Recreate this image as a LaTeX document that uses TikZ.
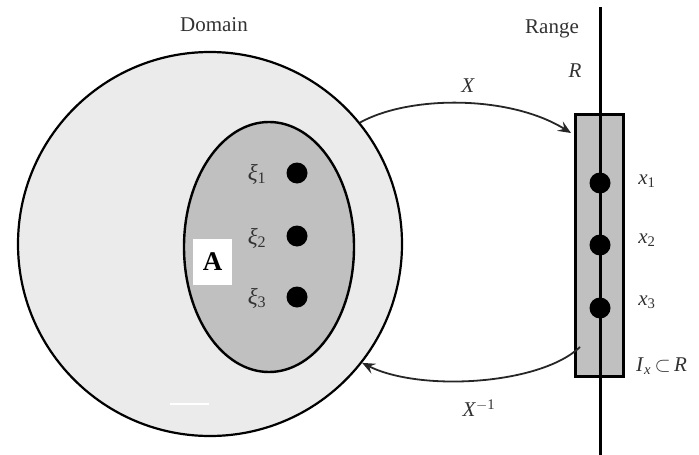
\documentclass[tikz,border=0pt]{standalone}
\usepackage{fontspec}
\setmainfont{Liberation Serif}
\usetikzlibrary{shapes.geometric,arrows.meta}
\definecolor{outerfill}{RGB}{235,235,235}
\definecolor{innerfill}{RGB}{192,192,192}
\definecolor{labelgray}{RGB}{50,50,50}
\tikzset{
  dotmark/.style={circle,fill=black,inner sep=0pt,minimum size=21pt},
  lbl/.style={text=labelgray,inner sep=0pt,font=\fontsize{21}{24}\selectfont},
  maparrow/.style={line width=1.8pt,draw=black!85,-{Stealth[length=13pt,width=11pt,inset=5pt]}}
}
\begin{document}
\begin{tikzpicture}[x=1pt,y=-1pt]
\useasboundingbox (0,0) rectangle (699,455);
% domain
\node[circle,draw,line width=2.2pt,fill=outerfill,minimum size=384pt,inner sep=0pt] (domain) at (210,244) {};
\node[ellipse,draw,line width=2.4pt,fill=innerfill,minimum width=170pt,minimum height=250pt,inner sep=0pt] (setA) at (269,247) {};
\draw[white,line width=2pt] (170,404) -- (209,404);
% dots in A
\node[dotmark] (d1) at (297,173) {};
\node[dotmark] (d2) at (297,236) {};
\node[dotmark] (d3) at (297,297) {};
\node[lbl,font=\fontsize{23}{26}\selectfont] (xi1) at (257,174) {\textit{ξ}\textsubscript{1}};
\node[lbl,font=\fontsize{23}{26}\selectfont] (xi2) at (257,238) {\textit{ξ}\textsubscript{2}};
\node[lbl,font=\fontsize{23}{26}\selectfont] (xi3) at (257,298) {\textit{ξ}\textsubscript{3}};
\node[fill=white,minimum width=39pt,minimum height=46pt,inner sep=0pt,font=\fontsize{27}{30}\selectfont\bfseries] (Alabel) at (212.5,262) {A};
% titles
\node[lbl,anchor=base] (dom) at (214,31) {Domain};
\node[lbl,anchor=base] (ran) at (552,34) {Range};
\node[lbl,anchor=base] (Rl) at (575,77) {\textit{R}};
% range
\coordinate (ltop) at (600,7);
\coordinate (lbot) at (600,455);
\node[draw,line width=3pt,fill=innerfill,minimum width=48pt,minimum height=262pt,inner sep=0pt] (Ix) at (599,245) {};
\draw[line width=3pt] (ltop) -- (lbot);
\node[dotmark] (r1) at (600,183) {};
\node[dotmark] (r2) at (600,245) {};
\node[dotmark] (r3) at (600,308) {};
\node[lbl] (x1) at (647,181) {\textit{x}\textsubscript{1}};
\node[lbl] (x2) at (647,240) {\textit{x}\textsubscript{2}};
\node[lbl] (x3) at (647,302) {\textit{x}\textsubscript{3}};
\node[lbl,anchor=west] (IxR) at (636,366) {\textit{I}\textsubscript{\textit{x}}\,$\subset$\,\textit{R}};
% arrows
\coordinate (xtip) at (571,133);
\coordinate (xinvstart) at (580,347);
\draw[maparrow] (domain.39) .. controls (410,95) and (510,95) .. (xtip);
\node[lbl] (Xl) at (468,86) {\textit{X}};
\draw[maparrow] (xinvstart) .. controls (540,385) and (420,392) .. (domain.-38);
\node[lbl] (Xinv) at (479,408) {\textit{X}\textsuperscript{$-$1}};
\end{tikzpicture}
\end{document}
